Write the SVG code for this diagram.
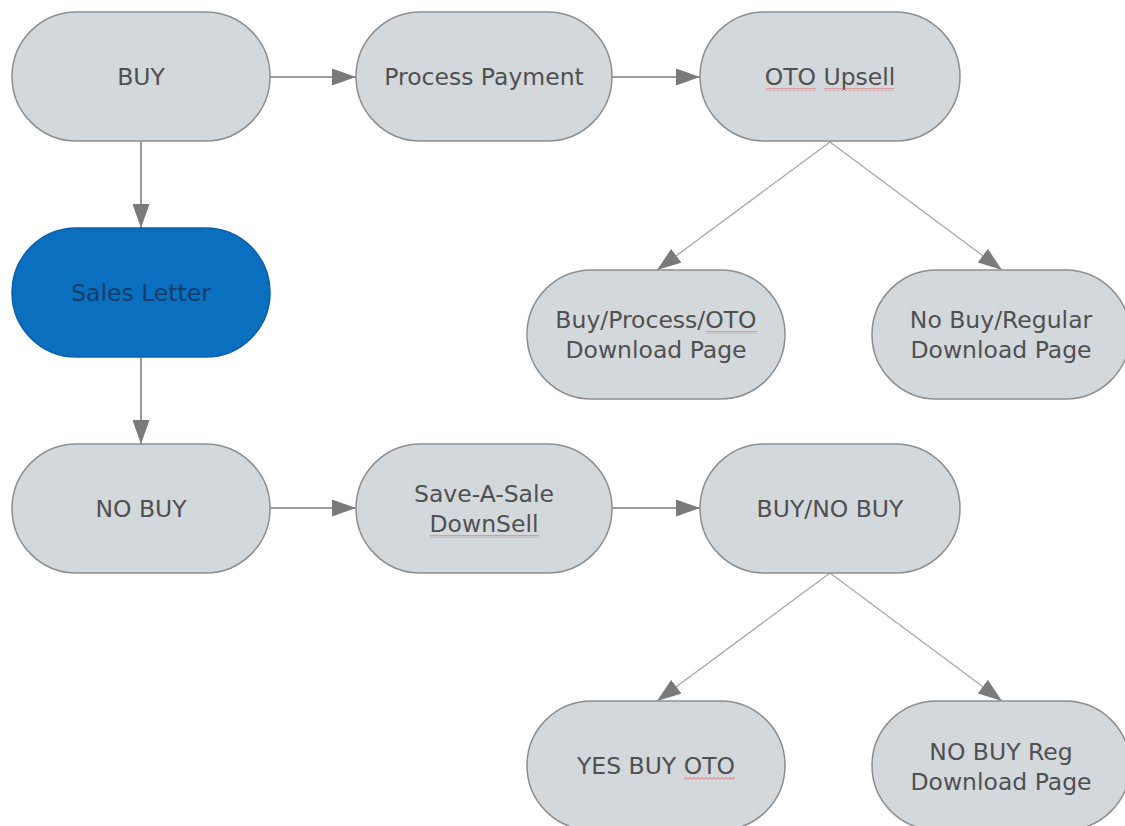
<svg xmlns="http://www.w3.org/2000/svg" width="1125" height="826" viewBox="0 0 1125 826">
  <style>
    .node { fill: #d3d8dd; stroke: #8e8e8e; stroke-width: 1.5; }
    .node.primary { fill: #0b6fc0; stroke: #0c5ea6; }
    .label { font-family: "DejaVu Sans", Verdana, sans-serif; font-size: 23.5px; fill: #505050; text-anchor: middle; }
    .label.primary { fill: #133c6a; }
    .flow { fill: none; stroke: #9a9a9a; stroke-width: 2; marker-end: url(#arrow); }
    .branch { fill: none; stroke: #a8a8a8; stroke-width: 1.3; marker-end: url(#arrow); }
    .spell { fill: url(#squiggle); }
  </style>
  <defs>
    <marker id="arrow" markerUnits="userSpaceOnUse" markerWidth="24" markerHeight="17" refX="24" refY="8.5" orient="auto">
      <path d="M0,0 L24,8.5 L0,17 Z" fill="#7a7a7a"/>
    </marker>
    <pattern id="squiggle" patternUnits="userSpaceOnUse" width="4" height="3">
      <path d="M0,2.5 L2,0.5 L4,2.5" fill="none" stroke="#d9534f" stroke-width="0.9"/>
    </pattern>
  </defs>

  <rect width="1125" height="826" fill="#ffffff"/>

  <g id="connectors">
    <path class="flow" d="M270,77 L356,77"/>
    <path class="flow" d="M612,77 L700,77"/>
    <path class="flow" d="M141,141 L141,228"/>
    <path class="flow" d="M141,357 L141,444"/>
    <path class="flow" d="M270,508 L356,508"/>
    <path class="flow" d="M612,508 L700,508"/>
    <path class="branch" d="M830,142 L657,270"/>
    <path class="branch" d="M830,142 L1002,270"/>
    <path class="branch" d="M830,573 L657,701"/>
    <path class="branch" d="M830,573 L1002,701"/>
  </g>

  <g id="buy">
    <rect class="node" x="12" y="12" width="258" height="129" rx="64.5"/>
    <text class="label" x="141" y="85">BUY</text>
  </g>

  <g id="process-payment">
    <rect class="node" x="356" y="12" width="256" height="129" rx="64.5"/>
    <text class="label" x="484" y="85">Process Payment</text>
  </g>

  <g id="oto-upsell">
    <rect class="node" x="700" y="12" width="260" height="129" rx="64.5"/>
    <text class="label" x="830" y="85">OTO Upsell</text>
    <rect class="spell" x="766" y="88" width="50" height="3"/>
    <rect class="spell" x="824" y="88" width="70" height="3"/>
  </g>

  <g id="sales-letter">
    <rect class="node primary" x="12" y="228" width="258" height="129" rx="64.5"/>
    <text class="label primary" x="141" y="301">Sales Letter</text>
  </g>

  <g id="oto-download">
    <rect class="node" x="527" y="270" width="258" height="129" rx="64.5"/>
    <text class="label" x="656" y="328">Buy/Process/OTO</text>
    <text class="label" x="656" y="358">Download Page</text>
    <rect class="spell" x="706" y="331" width="51" height="3"/>
  </g>

  <g id="regular-download">
    <rect class="node" x="872" y="270" width="258" height="129" rx="64.5"/>
    <text class="label" x="1001" y="328">No Buy/Regular</text>
    <text class="label" x="1001" y="358">Download Page</text>
  </g>

  <g id="no-buy">
    <rect class="node" x="12" y="444" width="258" height="129" rx="64.5"/>
    <text class="label" x="141" y="517">NO BUY</text>
  </g>

  <g id="save-a-sale">
    <rect class="node" x="356" y="444" width="256" height="129" rx="64.5"/>
    <text class="label" x="484" y="502">Save-A-Sale</text>
    <text class="label" x="484" y="532">DownSell</text>
    <rect class="spell" x="430" y="535" width="109" height="3"/>
  </g>

  <g id="buy-no-buy">
    <rect class="node" x="700" y="444" width="260" height="129" rx="64.5"/>
    <text class="label" x="830" y="517">BUY/NO BUY</text>
  </g>

  <g id="yes-buy-oto">
    <rect class="node" x="527" y="701" width="258" height="129" rx="64.5"/>
    <text class="label" x="656" y="774">YES BUY OTO</text>
    <rect class="spell" x="684" y="777" width="51" height="3"/>
  </g>

  <g id="no-buy-reg">
    <rect class="node" x="872" y="701" width="258" height="129" rx="64.5"/>
    <text class="label" x="1001" y="760">NO BUY Reg</text>
    <text class="label" x="1001" y="790">Download Page</text>
  </g>
</svg>
